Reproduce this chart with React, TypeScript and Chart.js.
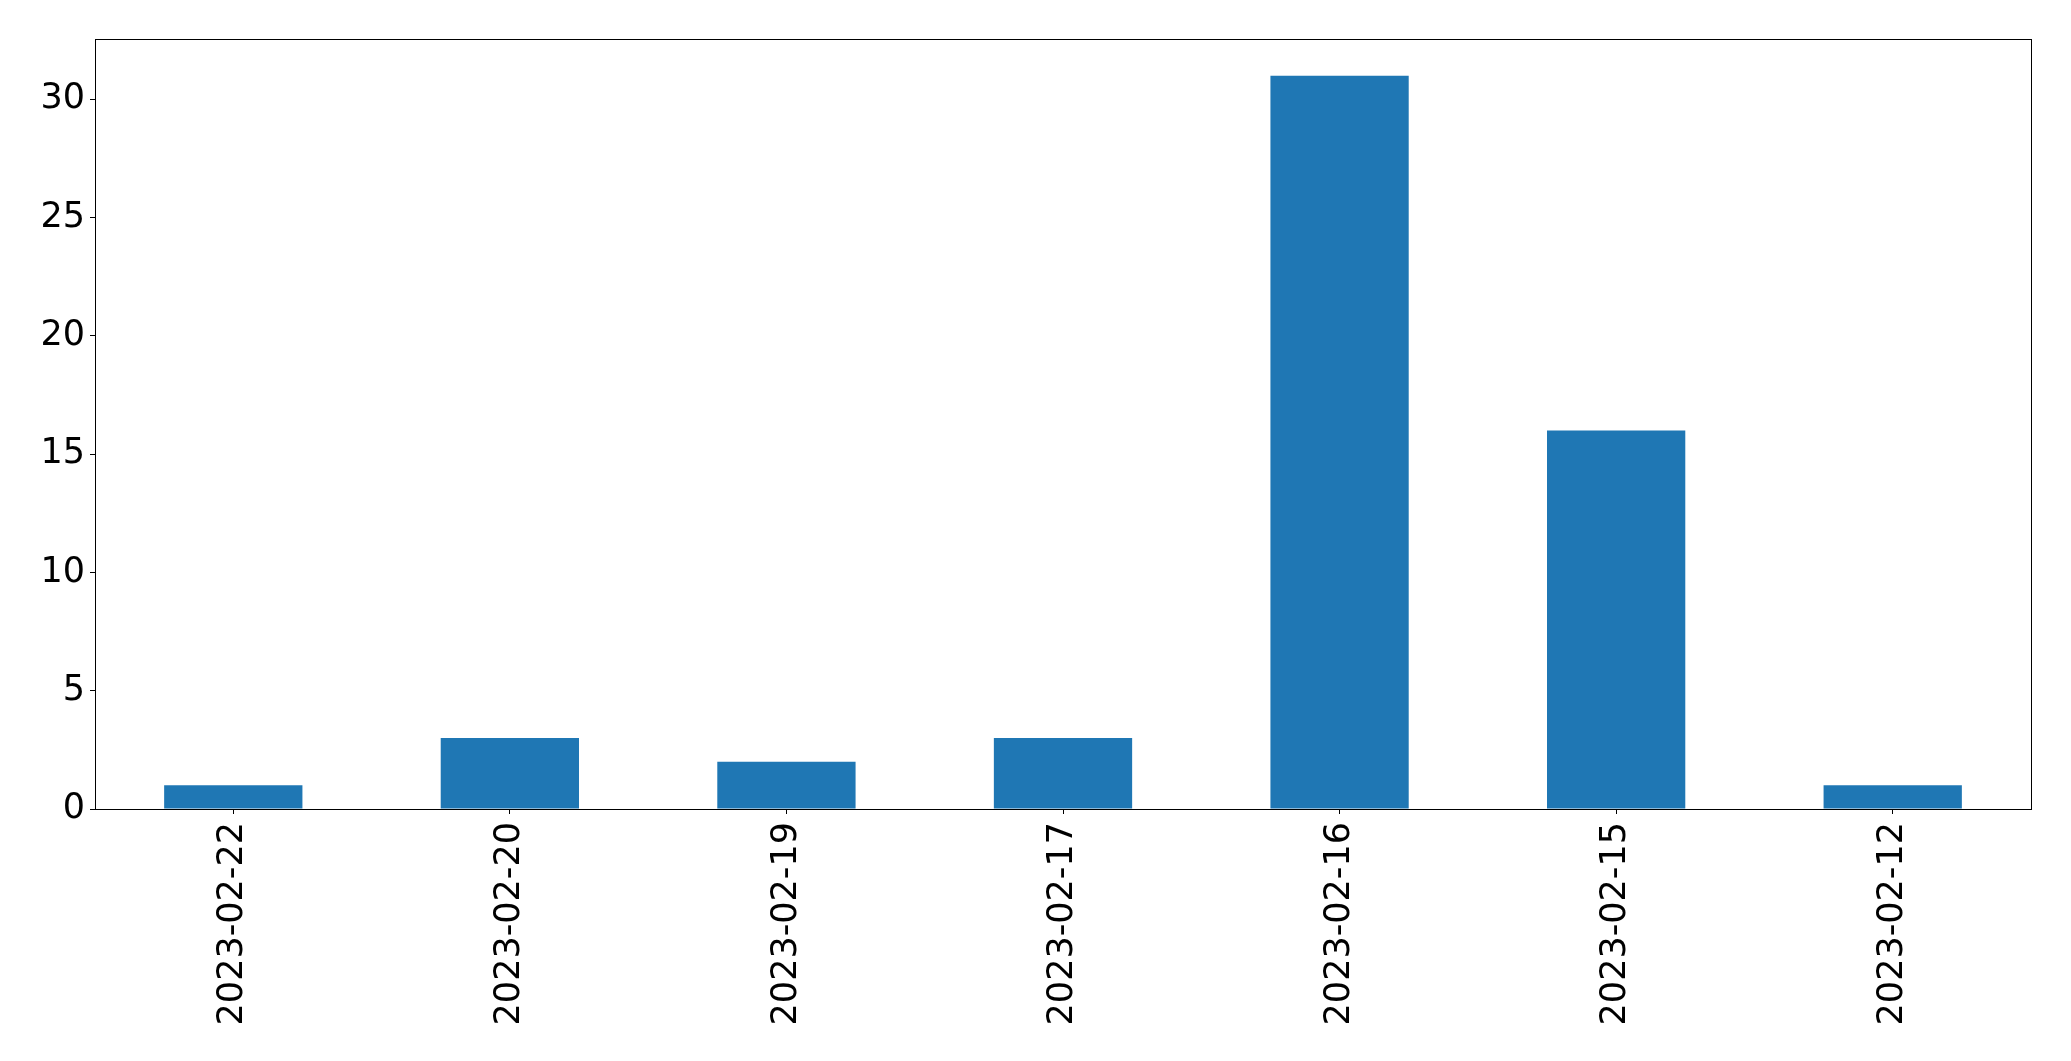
import React, { useEffect, useRef } from "react";
import { Chart, registerables } from "chart.js";

Chart.register(...registerables);

const categories = ["2023-02-22", "2023-02-20", "2023-02-19", "2023-02-17", "2023-02-16", "2023-02-15", "2023-02-12"];
const counts = [1, 3, 2, 3, 31, 16, 1];
const yMax = 32.55;
const yStep = 5;

const frame = {
  id: "frame",
  afterDraw(chart: any) {
    const { ctx, chartArea } = chart;
    ctx.save();
    ctx.strokeStyle = "#000";
    ctx.lineWidth = 1;
    ctx.strokeRect(
      Math.round(chartArea.left) + 0.5,
      Math.round(chartArea.top) + 0.5,
      Math.round(chartArea.right - chartArea.left),
      Math.round(chartArea.bottom - chartArea.top)
    );
    ctx.restore();
  },
};

export default function App() {
  const ref = useRef<HTMLCanvasElement>(null);
  useEffect(() => {
    document.body.style.margin = "0";
    const font = { family: "DejaVu Sans", size: 35 };
    const chart = new Chart(ref.current!, {
      type: "bar",
      data: {
        labels: categories,
        datasets: [
          {
            data: counts,
            backgroundColor: "#1f77b4",
            barPercentage: 0.5,
            categoryPercentage: 1,
          },
        ],
      },
      options: {
        animation: false,
        responsive: false,
        maintainAspectRatio: false,
        layout: { padding: { left: 0, top: 39, right: 40, bottom: 0 } },
        plugins: { legend: { display: false }, tooltip: { enabled: false } },
        scales: {
          x: {
            offset: true,
            grid: { display: true, drawOnChartArea: false, drawTicks: true, tickLength: 5, color: "#000", offset: false },
            border: { display: true, color: "#000", width: 1 },
            ticks: { color: "#000", font, minRotation: 90, maxRotation: 90, padding: 8, autoSkip: false },
            afterFit(scale: any) {
              scale.height = 252;
            },
          },
          y: {
            min: 0,
            max: yMax,
            grid: { display: true, drawOnChartArea: false, drawTicks: true, tickLength: 5, color: "#000" },
            border: { display: true, color: "#000", width: 1 },
            ticks: { color: "#000", font, stepSize: yStep, includeBounds: false, padding: 5 },
            afterFit(scale: any) {
              scale.width = 95;
            },
          },
        },
      },
      plugins: [frame],
    });
    return () => chart.destroy();
  }, []);
  return <canvas ref={ref} width={2071} height={1061} style={{ display: "block" }} />;
}
